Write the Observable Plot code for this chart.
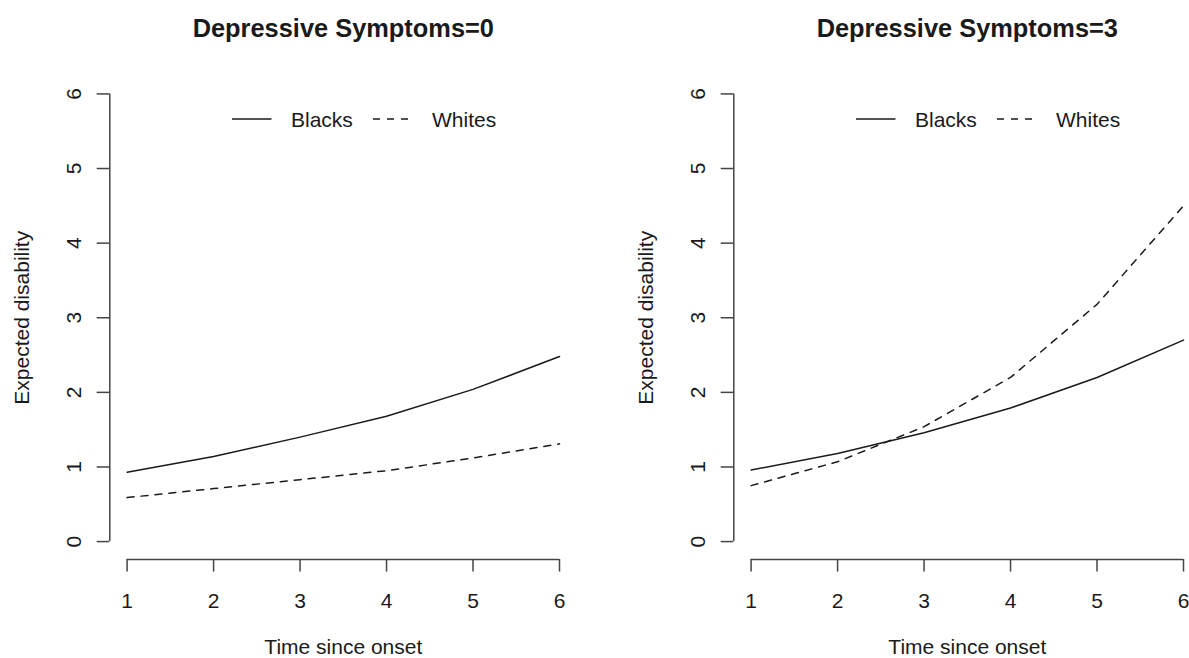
<!DOCTYPE html>
<html>
<head>
<meta charset="utf-8">
<script src="https://cdn.jsdelivr.net/npm/d3@7"></script>
<script src="https://cdn.jsdelivr.net/npm/@observablehq/plot@0.6"></script>
<style>
  html, body { margin: 0; padding: 0; background: #fff; overflow: hidden; }
  #chart { position: relative; width: 1189px; height: 658px; overflow: hidden; background: #fff;
           font-family: "Liberation Sans", Arial, Helvetica, sans-serif; }
  .panel { position: absolute; top: 0; width: 624px; height: 658px; }
  .panel svg { position: absolute; left: 0; top: 0; }
</style>
</head>
<body>
<div id="chart"></div>
<script>
// ---- data ----
const time = [1, 2, 3, 4, 5, 6];
const xTicks = [1, 2, 3, 4, 5, 6];
const yTicks = [0, 1, 2, 3, 4, 5, 6];
const panelTitles = ["Depressive Symptoms=0", "Depressive Symptoms=3"];
const seriesNames = ["Blacks", "Whites"];
const xLabel = "Time since onset";
const yLabel = "Expected disability";

const blacksDep0 = [0.93, 1.14, 1.40, 1.68, 2.04, 2.48];
const whitesDep0 = [0.59, 0.71, 0.83, 0.95, 1.12, 1.31];
const blacksDep3 = [0.96, 1.18, 1.46, 1.79, 2.20, 2.70];
const whitesDep3 = [0.75, 1.07, 1.54, 2.20, 3.18, 4.50];

// ---- styling ----
const FONT = "'Liberation Sans', Arial, Helvetica, sans-serif";
const TEXT = "#1a1a1a";
const AXIS = "#444";
const LINE = "#1a1a1a";
const DASH = "7,7";

function panel(title, blacks, whites) {
  const xPad = 0.04 * (xTicks[xTicks.length - 1] - xTicks[0]);
  const yPad = 0.04 * (yTicks[yTicks.length - 1] - yTicks[0]);
  const xDom = [xTicks[0] - xPad, xTicks[xTicks.length - 1] + xPad];
  const yDom = [yTicks[0] - yPad, yTicks[yTicks.length - 1] + yPad];
  const bData = time.map((t, i) => ({t, v: blacks[i], s: seriesNames[0]}));
  const wData = time.map((t, i) => ({t, v: whites[i], s: seriesNames[1]}));
  return Plot.plot({
    width: 624,
    height: 658,
    marginLeft: 109.3,
    marginRight: 47.7,
    marginTop: 75.5,
    marginBottom: 99,
    x: {domain: xDom, label: null},
    y: {domain: yDom, label: null},
    style: {fontFamily: FONT, fontSize: "21px", color: TEXT, background: "transparent", overflow: "visible"},
    marks: [
      Plot.ruleY([yDom[0]], {x1: xTicks[0], x2: xTicks[xTicks.length - 1], stroke: AXIS, strokeWidth: 1.5}),
      Plot.ruleX([xDom[0]], {y1: yTicks[0], y2: yTicks[yTicks.length - 1], stroke: AXIS, strokeWidth: 1.5}),
      Plot.axisX({ticks: xTicks, tickSize: 12.6, tickPadding: 21, fontSize: 21, label: null,
                  tickFormat: d => String(d), stroke: AXIS, strokeWidth: 1.5, fill: TEXT}),
      Plot.axisY({ticks: yTicks, tickSize: 12.6, tickFormat: () => "", label: null,
                  stroke: AXIS, strokeWidth: 1.5}),
      Plot.text(yTicks, {frameAnchor: "left", y: d => d, text: d => String(d), rotate: -90,
                         dx: -35.8, lineAnchor: "middle", textAnchor: "middle", fontSize: 21, fill: TEXT}),
      Plot.line(bData, {x: "t", y: "v", stroke: LINE, strokeWidth: 1.5}),
      Plot.line(wData, {x: "t", y: "v", stroke: LINE, strokeWidth: 1.5, strokeDasharray: DASH}),
      Plot.text([title], {frameAnchor: "top", dy: -47, text: d => d, fontSize: 25.4,
                          fontWeight: "bold", lineAnchor: "middle", fill: TEXT}),
      Plot.text([xLabel], {frameAnchor: "bottom", dy: 87.5, text: d => d, fontSize: 21,
                           lineAnchor: "middle", fill: TEXT}),
      Plot.text([yLabel], {frameAnchor: "left", dx: -87.3, rotate: -90, text: d => d, fontSize: 21,
                           lineAnchor: "middle", textAnchor: "middle", fill: TEXT})
    ]
  });
}

function legend() {
  const ns = "http://www.w3.org/2000/svg";
  const svg = document.createElementNS(ns, "svg");
  svg.setAttribute("width", 624);
  svg.setAttribute("height", 160);
  svg.style.position = "absolute";
  svg.style.left = "0px";
  svg.style.top = "0px";
  svg.style.overflow = "visible";
  const items = [
    {x1: 232, x2: 271.5, tx: 291, dash: null, name: seriesNames[0]},
    {x1: 373, x2: 412.5, tx: 432, dash: DASH, name: seriesNames[1]}
  ];
  for (const it of items) {
    const l = document.createElementNS(ns, "line");
    l.setAttribute("x1", it.x1); l.setAttribute("x2", it.x2);
    l.setAttribute("y1", 119); l.setAttribute("y2", 119);
    l.setAttribute("stroke", LINE); l.setAttribute("stroke-width", 1.5);
    if (it.dash) l.setAttribute("stroke-dasharray", it.dash);
    svg.appendChild(l);
    const t = document.createElementNS(ns, "text");
    t.setAttribute("x", it.tx); t.setAttribute("y", 126.7);
    t.setAttribute("font-size", 21); t.setAttribute("font-family", FONT);
    t.setAttribute("fill", TEXT);
    t.textContent = it.name;
    svg.appendChild(t);
  }
  return svg;
}

const chart = document.getElementById("chart");
const panels = [
  [panelTitles[0], blacksDep0, whitesDep0],
  [panelTitles[1], blacksDep3, whitesDep3]
];
panels.forEach((p, i) => {
  const div = document.createElement("div");
  div.className = "panel";
  div.style.left = (i * 624) + "px";
  div.appendChild(panel(...p));
  div.appendChild(legend());
  chart.appendChild(div);
});
</script>
</body>
</html>
